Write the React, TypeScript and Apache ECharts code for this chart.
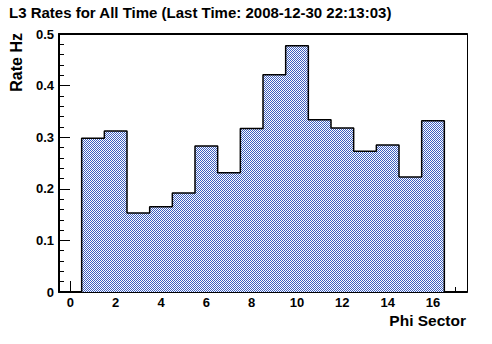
import React, { useEffect, useRef } from "react";
import * as echarts from "echarts";

const titleText = "L3 Rates for All Time (Last Time: 2008-12-30 22:13:03)";
const xAxisTitle = "Phi Sector";
const yAxisTitle = "Rate Hz";

const phiSectors = [1, 2, 3, 4, 5, 6, 7, 8, 9, 10, 11, 12, 13, 14, 15, 16];
const rates = [0.298, 0.312, 0.153, 0.165, 0.192, 0.283, 0.231, 0.317, 0.421, 0.477, 0.334, 0.318, 0.273, 0.285, 0.223, 0.332];

const xRange = [-0.5, 17.5];
const xMajorTicks = [0, 2, 4, 6, 8, 10, 12, 14, 16];
const xMinorTicks = [0, 0.5, 1, 1.5, 2, 2.5, 3, 3.5, 4, 4.5, 5, 5.5, 6, 6.5, 7, 7.5, 8, 8.5, 9, 9.5, 10, 10.5, 11, 11.5, 12, 12.5, 13, 13.5, 14, 14.5, 15, 15.5, 16, 16.5, 17];
const yRange = [0, 0.5];
const yStep = 0.1;

const FONT = "'Liberation Sans', Arial, Helvetica, sans-serif";

export default function App() {
  const ref = useRef<HTMLDivElement>(null);
  useEffect(() => {
    if (!ref.current) return;
    const chart = echarts.init(ref.current, undefined, { renderer: "svg" });

    const cv = document.createElement("canvas");
    cv.width = 2;
    cv.height = 2;
    const ctx = cv.getContext("2d")!;
    ctx.fillStyle = "#ffffff";
    ctx.fillRect(0, 0, 2, 2);
    ctx.fillStyle = "#3d5fc0";
    ctx.fillRect(0, 0, 1, 1);
    ctx.fillRect(1, 1, 1, 1);

    const half = 0.5;
    const outline: number[][] = [[phiSectors[0] - half, 0]];
    phiSectors.forEach((s, i) => {
      outline.push([s - half, rates[i]]);
      outline.push([s + half, rates[i]]);
    });
    outline.push([phiSectors[phiSectors.length - 1] + half, 0]);

    const tickLabel = { color: "#000", fontFamily: FONT, fontWeight: "bold" as const, fontSize: 13 };

    chart.setOption({
      animation: false,
      grid: { left: 59, right: 25, top: 34, bottom: 52, containLabel: false, outerBoundsMode: "none" },
      xAxis: [
        {
          type: "value",
          min: xRange[0],
          max: xRange[1],
          position: "bottom",
          axisLine: { show: true, onZero: false, lineStyle: { color: "#000", width: 2 } },
          axisTick: { show: true, inside: true, length: 11, customValues: xMajorTicks, lineStyle: { color: "#000", width: 1 } },
          axisLabel: { show: true, customValues: xMajorTicks, margin: 4, ...tickLabel },
          splitLine: { show: false },
        },
        {
          type: "value",
          min: xRange[0],
          max: xRange[1],
          position: "bottom",
          axisLine: { show: false },
          axisTick: { show: true, inside: true, length: 5, customValues: xMinorTicks, lineStyle: { color: "#000", width: 1 } },
          axisLabel: { show: false },
          splitLine: { show: false },
        },
        {
          type: "value",
          min: xRange[0],
          max: xRange[1],
          position: "top",
          axisLine: { show: true, onZero: false, lineStyle: { color: "#000", width: 2 } },
          axisTick: { show: false },
          axisLabel: { show: false },
          splitLine: { show: false },
        },
      ],
      yAxis: [
        {
          type: "value",
          min: yRange[0],
          max: yRange[1],
          interval: yStep,
          position: "left",
          axisLine: { show: true, onZero: false, lineStyle: { color: "#000", width: 2 } },
          axisTick: { show: true, inside: true, length: 11, lineStyle: { color: "#000", width: 1 } },
          minorTick: { show: true, splitNumber: 5, length: 5, lineStyle: { color: "#000", width: 1 } },
          axisLabel: { show: true, margin: 5, formatter: (v: number) => String(Math.round(v * 10) / 10), ...tickLabel },
          splitLine: { show: false },
          minorSplitLine: { show: false },
        },
        {
          type: "value",
          min: yRange[0],
          max: yRange[1],
          position: "right",
          axisLine: { show: true, onZero: false, lineStyle: { color: "#000", width: 1 } },
          axisTick: { show: false },
          axisLabel: { show: false },
          splitLine: { show: false },
        },
      ],
      series: [
        {
          type: "line",
          xAxisIndex: 0,
          yAxisIndex: 0,
          data: outline,
          symbol: "none",
          silent: true,
          lineStyle: { color: "#000", width: 1.5 },
          areaStyle: { color: { image: cv, repeat: "repeat" }, opacity: 1 },
          z: 1,
        },
      ],
      graphic: [
        {
          type: "text",
          x: 9,
          y: 12.5,
          style: { text: titleText, fill: "#000", font: `bold 15px ${FONT}`, align: "left", verticalAlign: "middle" },
        },
        {
          type: "text",
          x: 16.5,
          y: 33,
          rotation: Math.PI / 2,
          style: { text: yAxisTitle, fill: "#000", font: `bold 16px ${FONT}`, align: "right", verticalAlign: "middle" },
        },
        {
          type: "text",
          x: 466,
          y: 320,
          style: { text: xAxisTitle, fill: "#000", font: `bold 15.5px ${FONT}`, align: "right", verticalAlign: "middle" },
        },
      ],
    });
    return () => chart.dispose();
  }, []);
  return (
    <div
      ref={ref}
      style={{ position: "absolute", left: 0, top: 0, width: 492, height: 344, imageRendering: "pixelated" }}
    />
  );
}
